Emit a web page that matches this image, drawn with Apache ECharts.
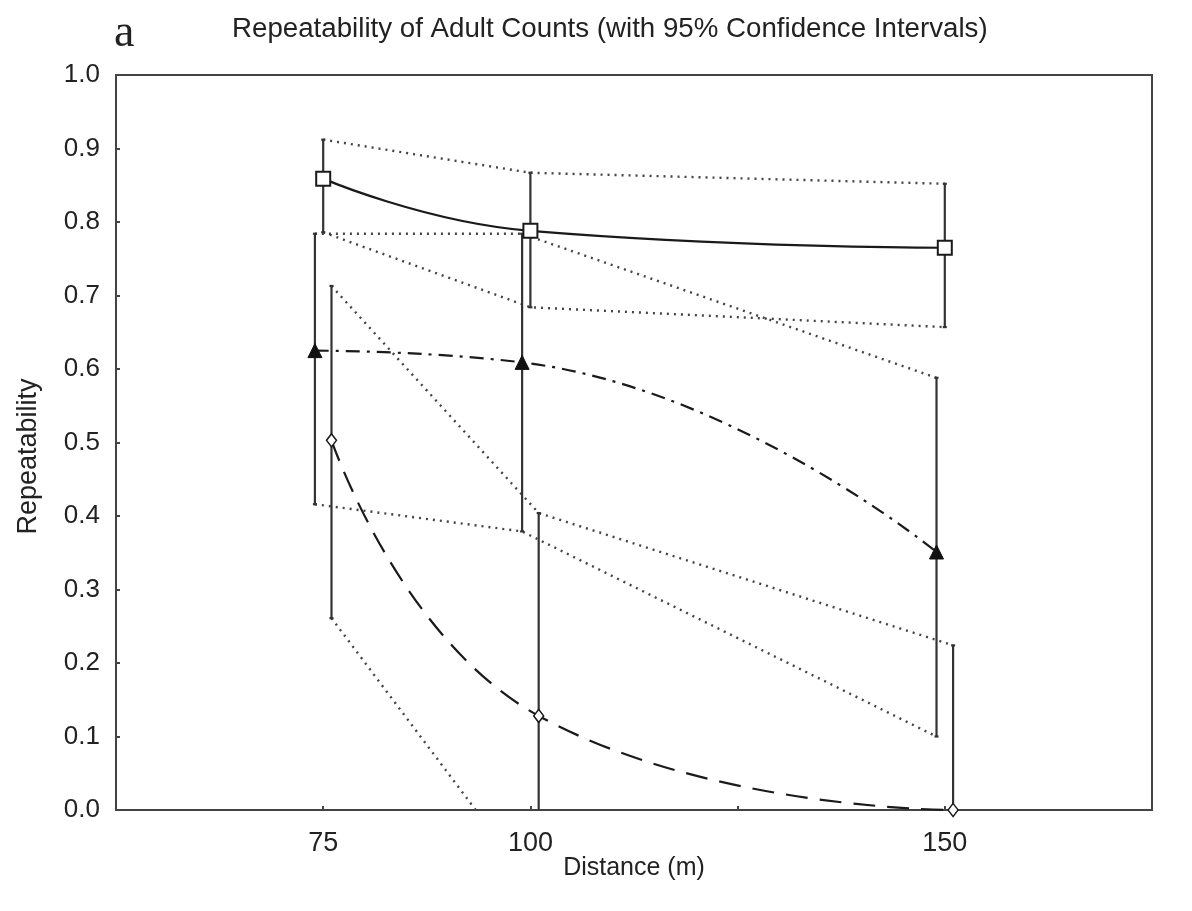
<!DOCTYPE html>
<html>
<head>
<meta charset="utf-8">
<script src="https://cdn.jsdelivr.net/npm/echarts@6/dist/echarts.min.js"></script>
<style>
  html, body { margin: 0; padding: 0; background: #ffffff; }
  #chart { width: 1192px; height: 911px; }
</style>
</head>
<body>
<div id="chart"></div>
<script>
// ---- data ----
const distances = [75, 100, 150];
const xTickLabels = [75, 100, 150];

// square (solid curve)
const squareR  = [0.859, 0.788, 0.765];
const squareLo = [0.786, 0.684, 0.657];
const squareHi = [0.912, 0.867, 0.852];

// filled triangle (dash-dot curve)
const triR  = [0.625, 0.609, 0.351];
const triLo = [0.416, 0.379, 0.100];
const triHi = [0.784, 0.784, 0.588];

// open diamond (dashed curve)
const diaR  = [0.503, 0.128, 0.0];
const diaLo = [0.261, -0.114, -0.27];
const diaHi = [0.713, 0.404, 0.224];

// ---- layout / style ----
const jitter = { tri: -1, sq: 0, dia: 1 };
const Y_MIN = 0, Y_MAX = 1;
const FONT = 'Liberation Sans, Arial, sans-serif';
const AXIS_COLOR = '#444';
const LINE_COLOR = '#1a1a1a';
const DOT_COLOR = '#444';

function pts(vals, off) { return distances.map((d, i) => [d + off, vals[i]]); }
function bars(lo, hi, off) { return distances.map((d, i) => [d + off, lo[i], hi[i]]); }

function ciLine(name, vals, off) {
  return {
    name: name, type: 'line', data: pts(vals, off), smooth: false,
    symbol: 'none', clip: true, silent: true, z: 1,
    lineStyle: { color: DOT_COLOR, width: 2.4, type: [2, 5] }
  };
}

function errorBars(name, lo, hi, off) {
  return {
    name: name, type: 'custom', data: bars(lo, hi, off), z: 2, silent: true,
    renderItem: function (params, api) {
      const x = api.value(0);
      const l = Math.max(api.value(1), Y_MIN);
      const h = Math.min(api.value(2), Y_MAX);
      const p1 = api.coord([x, l]);
      const p2 = api.coord([x, h]);
      const st = { stroke: '#333', lineWidth: 2.2 };
      const children = [{
        type: 'line', shape: { x1: p1[0], y1: p1[1], x2: p2[0], y2: p2[1] }, style: st
      }, {
        type: 'line', shape: { x1: p2[0] - 2, y1: p2[1], x2: p2[0] + 2, y2: p2[1] }, style: st
      }];
      if (api.value(1) >= Y_MIN) {
        children.push({
          type: 'line', shape: { x1: p1[0] - 2, y1: p1[1], x2: p1[0] + 2, y2: p1[1] }, style: st
        });
      }
      return { type: 'group', children: children };
    }
  };
}

const chart = echarts.init(document.getElementById('chart'), null, { renderer: 'canvas' });

const option = {
  backgroundColor: '#ffffff',
  animation: false,
  title: [
    { text: 'a', left: 114, top: 11, padding: 0,
      textStyle: { fontFamily: 'Liberation Serif, DejaVu Serif, serif', fontSize: 46, fontWeight: 'normal', color: '#222' } },
    { text: 'Repeatability of Adult Counts (with 95% Confidence Intervals)', left: 232, top: 15, padding: 0,
      textStyle: { fontFamily: FONT, fontSize: 27.7, fontWeight: 'normal', color: '#222' } }
  ],
  grid: { left: 116, right: 40, top: 75, bottom: 101, show: true, borderColor: AXIS_COLOR, borderWidth: 2, backgroundColor: 'transparent' },
  xAxis: {
    type: 'value', min: 50, max: 175, interval: 25,
    name: 'Distance (m)', nameLocation: 'middle', nameGap: 46, nameMoveOverlap: false,
    nameTextStyle: { fontFamily: FONT, fontSize: 25, color: '#222' },
    axisLine: { show: true, lineStyle: { color: AXIS_COLOR, width: 2 } },
    axisTick: { show: true, inside: true, length: 4, lineStyle: { color: AXIS_COLOR, width: 2 } },
    axisLabel: { margin: 20, fontFamily: FONT, fontSize: 27, color: '#222',
      formatter: function (v) { return xTickLabels.indexOf(v) >= 0 ? String(v) : ''; } },
    splitLine: { show: false }
  },
  yAxis: {
    type: 'value', min: Y_MIN, max: Y_MAX, interval: 0.1,
    name: 'Repeatability', nameLocation: 'middle', nameGap: 74,
    nameTextStyle: { fontFamily: FONT, fontSize: 27, color: '#222', padding: [0, 28, 0, 0] },
    axisLine: { show: true, lineStyle: { color: AXIS_COLOR, width: 2 } },
    axisTick: { show: true, inside: true, length: 4, lineStyle: { color: AXIS_COLOR, width: 2 } },
    axisLabel: { margin: 16, fontFamily: FONT, fontSize: 26, color: '#222',
      formatter: function (v) { return v.toFixed(1); } },
    splitLine: { show: false }
  },
  series: [
    ciLine('Square upper CI', squareHi, jitter.sq),
    ciLine('Square lower CI', squareLo, jitter.sq),
    ciLine('Triangle upper CI', triHi, jitter.tri),
    ciLine('Triangle lower CI', triLo, jitter.tri),
    ciLine('Diamond upper CI', diaHi, jitter.dia),
    ciLine('Diamond lower CI', diaLo, jitter.dia),
    errorBars('Square CI', squareLo, squareHi, jitter.sq),
    errorBars('Triangle CI', triLo, triHi, jitter.tri),
    errorBars('Diamond CI', diaLo, diaHi, jitter.dia),
    {
      name: 'Square', type: 'line', data: pts(squareR, jitter.sq), smooth: true, z: 5,
      symbol: 'rect', symbolSize: 14, showAllSymbol: true,
      itemStyle: { color: '#ffffff', borderColor: LINE_COLOR, borderWidth: 2 },
      lineStyle: { color: LINE_COLOR, width: 2.2, type: 'solid' }
    },
    {
      name: 'Triangle', type: 'line', data: pts(triR, jitter.tri), smooth: true, z: 5,
      symbol: 'triangle', symbolSize: 14,
      itemStyle: { color: '#111', borderColor: '#111', borderWidth: 1 },
      lineStyle: { color: LINE_COLOR, width: 2.2, type: [14, 7, 3, 7] }
    },
    {
      name: 'Diamond', type: 'line', data: pts(diaR, jitter.dia), smooth: true, z: 5, clip: true,
      symbol: 'diamond', symbolSize: [10, 13],
      itemStyle: { color: '#ffffff', borderColor: LINE_COLOR, borderWidth: 1.5 },
      lineStyle: { color: LINE_COLOR, width: 2.2, type: [22, 12] }
    }
  ]
};

chart.setOption(option);
</script>
</body>
</html>
